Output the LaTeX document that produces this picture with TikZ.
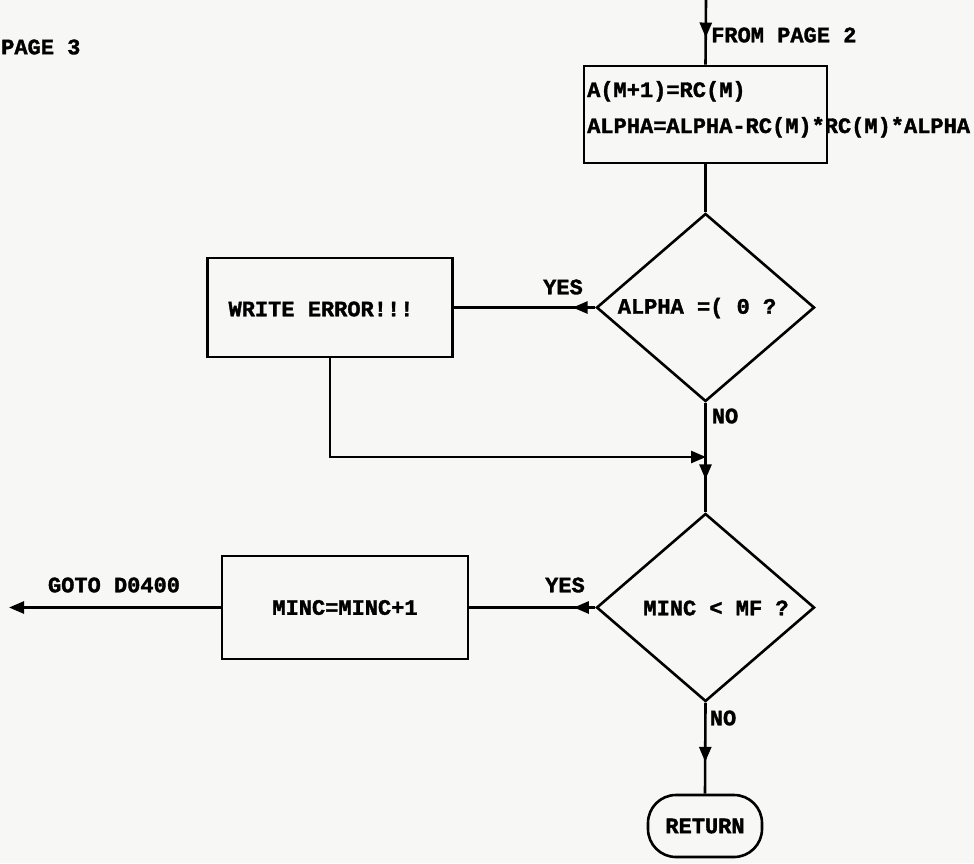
\documentclass[tikz,border=0pt]{standalone}
\usepackage{fontspec}
\setmainfont{Liberation Mono}[BoldFeatures={FakeBold=1.6}]
\usetikzlibrary{shapes.geometric,arrows.meta,decorations.markings}
\definecolor{paper}{RGB}{247,247,245}
\begin{document}
\begin{tikzpicture}[x=1pt,y=-1pt,
  every node/.style={font=\fontsize{22}{27}\selectfont\bfseries, inner sep=0pt},
  conn/.style={line width=2.6pt},
  box/.style={draw,rectangle,line width=2.6pt},
  dec/.style={draw,diamond,line width=2.6pt,minimum width=218pt,minimum height=188pt},
  term/.style={draw,rectangle,rounded corners=28pt,line width=2.6pt,minimum width=114pt,minimum height=62pt},
  tip/.style={-{Triangle[length=15pt,width=12pt]}},
  midarrow/.style={decoration={markings,mark=at position #1 with {\arrow{Triangle[length=15pt,width=12pt]}}},postaction={decorate}},
]
\fill[paper] (0,0) rectangle (974,863);
\useasboundingbox (0,0) rectangle (974,863);

\node[anchor=west] (pg) at (1,47) {PAGE 3};

% nodes
\coordinate (top) at (706,0);
\node[box,minimum width=243pt,minimum height=97pt] (b1) at (705.5,114.5) {};
\node[anchor=base west] (t1) at (587,97) {A(M+1)=RC(M)};
\node[anchor=base west] (t2) at (587,133) {ALPHA=ALPHA-RC(M)*RC(M)*ALPHA};
\node[anchor=west] (fp) at (711,35) {FROM PAGE 2};

\node[dec] (d1) at (705.5,307.5) {};
\node (d1t) at (697,308) {ALPHA =( 0 ?};

\node[box,minimum width=245pt,minimum height=99pt] (err) at (330,307.5) {};
\node (errt) at (321,309) {WRITE ERROR!!!};

\coordinate (m1) at (706,457);

\node[dec] (d2) at (705.5,607.5) {};
\node (d2t) at (716,608) {MINC < MF ?};

\node[box,minimum width=246pt,minimum height=103pt] (inc) at (345,607.5) {MINC=MINC+1};
\coordinate (go) at (9,607.5);
\node (got) at (114,585) {GOTO D0400};

\node[term] (ret) at (705,826) {RETURN};

% labels
\node (y1) at (563,287) {YES};
\node (n1) at (725,416) {NO};
\node (y2) at (565,585) {YES};
\node (n2) at (723,718) {NO};

% connectors
\draw[conn,midarrow=0.58] (top) -- (b1.north);
\draw[conn] (b1.south) -- (d1.north);
\draw[conn,midarrow=0.16] (d1.west) -- (err.east);
\draw[conn,tip] (err.south) |- (m1);
\draw[conn,midarrow=0.7] (d1.south) -- (d2.north);
\draw[conn,midarrow=0.17] (d2.west) -- (inc.east);
\draw[conn,tip] (inc.west) -- (go);
\draw[conn,midarrow=0.65] (d2.south) -- (ret.north);
\end{tikzpicture}
\end{document}
